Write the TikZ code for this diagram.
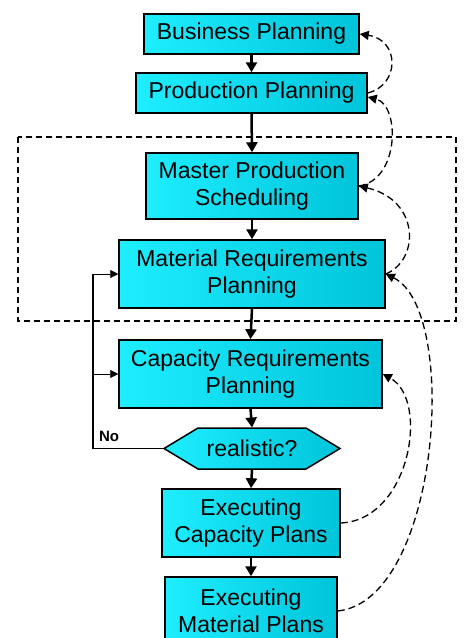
\documentclass[tikz,border=0pt]{standalone}
\usepackage{fontspec}
\setmainfont{Liberation Sans}
\usetikzlibrary{arrows.meta}
\definecolor{boxleft}{RGB}{30,238,255}
\definecolor{boxright}{RGB}{0,196,218}
\begin{document}
\begin{tikzpicture}[x=1pt,y=-1pt,line width=1pt,
  stepbox/.style={draw=black,line width=1.5pt,left color=boxleft,right color=boxright,inner sep=0pt,align=center,font=\fontsize{23}{27}\selectfont},
  hexfill/.style={draw=black,line width=1.5pt,left color=boxleft,right color=boxright},
  hexlbl/.style={inner sep=0pt,minimum width=176pt,minimum height=41pt,font=\fontsize{23}{27}\selectfont},
  flow/.style={line width=2.5pt,-{Triangle[length=10pt,width=11pt]}},
  fb/.style={line width=1.3pt,dash pattern=on 7pt off 4pt,-{Triangle[length=9pt,width=9pt]}},
  noline/.style={line width=1.6pt},
  noarrow/.style={line width=0.6pt,-{Triangle[length=8pt,width=8pt]}},
  groupbox/.style={line width=1.7pt,dash pattern=on 6pt off 4pt}]
\path[use as bounding box] (0,0) rectangle (464,638);
\draw[groupbox] (18,137) rectangle (456,321);
\node[stepbox,minimum width=215pt,minimum height=40pt] (bp) at (251.5,34) {Business Planning};
\node[stepbox,minimum width=231pt,minimum height=40pt] (pp) at (251.5,93) {Production Planning};
\node[stepbox,minimum width=212pt,minimum height=66pt] (mps) at (252,186) {Master Production\\Scheduling};
\node[stepbox,minimum width=266pt,minimum height=68pt] (mrp) at (252,274) {Material Requirements\\Planning};
\node[stepbox,minimum width=263pt,minimum height=68pt] (crp) at (250.5,374) {Capacity Requirements\\Planning};
\path[hexfill] (164,448.5) -- (198,428) -- (306,428) -- (340,448.5) -- (306,469) -- (198,469) -- cycle;
\node[hexlbl] (real) at (252,448.5) {realistic?};
\node[stepbox,minimum width=178pt,minimum height=68pt] (ecp) at (251,523) {Executing\\Capacity Plans};
\node[stepbox,minimum width=172pt,minimum height=68pt] (emp) at (251,611) {Executing\\Material Plans};
\foreach \a/\b in {bp/pp,pp/mps,mps/mrp,mrp/crp,crp/real,real/ecp,ecp/emp}
  \draw[flow] (\a.south) -- (\b.north);
\coordinate (nturn) at (93,274);
\draw[noline] (real.west) -| (nturn);
\draw[noarrow] (nturn) -- (mrp.west);
\draw[noarrow] (nturn |- crp.west) -- (crp.west);
\node[inner sep=0pt,font=\bfseries\fontsize{15}{17}\selectfont] (nolabel) at (109,436) {No};
\draw[fb] (pp.east) .. controls (400,85) and (400,40) .. (bp.east);
\draw[fb] (mps.east) .. controls (400,180) and (400,105) .. ([yshift=-4pt]pp.east);
\draw[fb] (mrp.east) .. controls (420,260) and (420,200) .. (mps.east);
\draw[fb] (ecp.east) .. controls (410,520) and (430,400) .. (crp.east);
\draw[fb] (emp.east) .. controls (440,600) and (460,310) .. (mrp.east);
\end{tikzpicture}
\end{document}
